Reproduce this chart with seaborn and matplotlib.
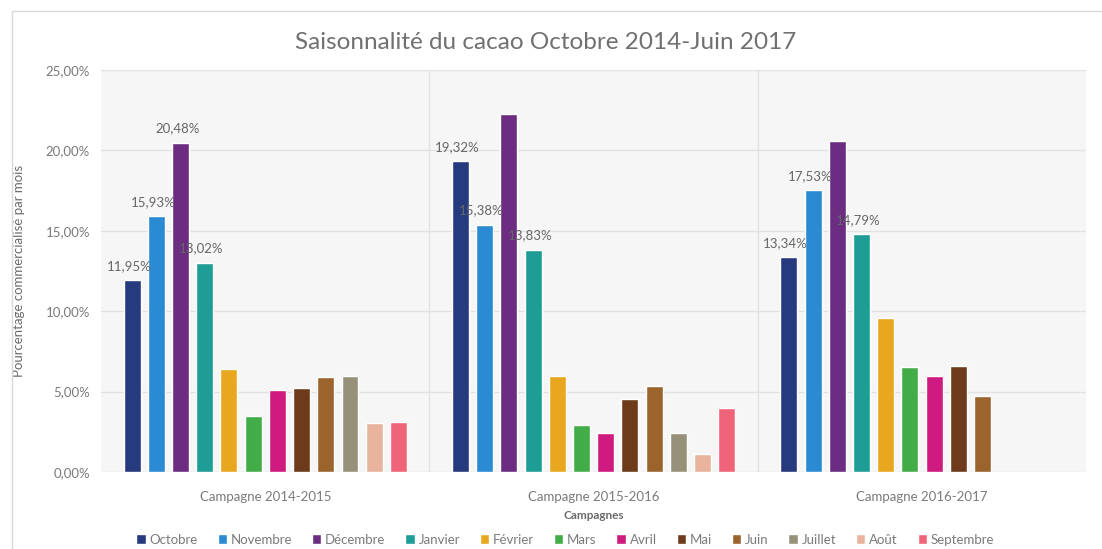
import matplotlib
matplotlib.use("Agg")
import matplotlib.pyplot as plt
from matplotlib.patches import Rectangle
from matplotlib.ticker import FuncFormatter
import numpy as np
import pandas as pd
import seaborn as sns

campagnes = ["Campagne 2014-2015", "Campagne 2015-2016", "Campagne 2016-2017"]
mois = ["Octobre", "Novembre", "Décembre", "Janvier", "Février", "Mars",
        "Avril", "Mai", "Juin", "Juillet", "Août", "Septembre"]

# share of the season sold per month (%), NaN = not yet available
c_2014 = [11.95, 15.93, 20.48, 13.02, 6.4, 3.5, 5.1, 5.2, 5.9, 6.0, 3.05, 3.1]
c_2015 = [19.32, 15.38, 22.25, 13.83, 5.95, 2.95, 2.4, 4.55, 5.35, 2.45, 1.1, 3.95]
c_2016 = [13.34, 17.53, 20.6, 14.79, 9.55, 6.55, 5.95, 6.6, 4.7, np.nan, np.nan, np.nan]

# bars that carry a data label in the original
labelled = {
    "Campagne 2014-2015": ["Octobre", "Novembre", "Décembre", "Janvier"],
    "Campagne 2015-2016": ["Octobre", "Novembre", "Janvier"],
    "Campagne 2016-2017": ["Octobre", "Novembre", "Janvier"],
}

couleurs = ["#263a7e", "#2a8bd3", "#6b2c82", "#1d9d95", "#e8a71f", "#42ad48",
            "#cf1a80", "#6d3b1b", "#9b642d", "#98917a", "#e9b49e", "#ef6479"]

rows = []
for camp, vals in zip(campagnes, [c_2014, c_2015, c_2016]):
    for m, v in zip(mois, vals):
        rows.append({"Campagne": camp, "Mois": m, "Valeur": v})
df = pd.DataFrame(rows)

sns.set_style("white")
plt.rcParams["font.family"] = ["Lato", "DejaVu Sans"]

fig = plt.figure(figsize=(11.02, 5.49), dpi=100)
ax = fig.add_axes([0.0917, 0.1403, 0.894, 0.7322])
ax.set_facecolor("#f6f6f6")

sns.barplot(data=df.dropna(), x="Campagne", y="Valeur", hue="Mois",
            order=campagnes, hue_order=mois, palette=couleurs, saturation=1,
            width=0.885, gap=0.30, ax=ax, legend=True)

ax.set_xlim(-0.5, 2.5)
ax.set_ylim(0, 25)
ax.set_yticks([0, 5, 10, 15, 20, 25])
ax.yaxis.set_major_formatter(FuncFormatter(lambda v, p: f"{v:.2f}%".replace(".", ",")))
ax.grid(axis="y", color="#e2e2e2", linewidth=1)
ax.set_axisbelow(True)
for xv in [0.5, 1.5]:
    ax.axvline(xv, color="#e2e2e2", linewidth=1, zorder=0)
for s in ax.spines.values():
    s.set_visible(False)
ax.tick_params(axis="both", length=0, labelsize=9.5, colors="#7a7a7a")
ax.tick_params(axis="x", pad=14)
ax.tick_params(axis="y", pad=8)

# data labels (slightly left of the bar centre, as in the original)
for cont, m in zip(ax.containers, mois):
    for bar in cont:
        camp = campagnes[int(round(bar.get_x() + bar.get_width() / 2))]
        if m not in labelled[camp]:
            continue
        h = bar.get_height()
        if np.isnan(h):
            continue
        ax.text(bar.get_x() + bar.get_width() / 2 - 0.01, h + 0.5,
                f"{h:.2f}%".replace(".", ","), ha="center", va="bottom",
                fontsize=9.5, color="#666666")

ax.set_xlabel("Campagnes", fontsize=8.5, fontweight="bold", color="#6a6a6a", labelpad=5)
ax.set_ylabel("Pourcentage commercialisé par mois", fontsize=9.5, color="#6a6a6a")
ax.yaxis.set_label_coords(-0.077, 0.5)

fig.text(0.495, 0.923, "Saisonnalité du cacao Octobre 2014-Juin 2017",
         ha="center", va="center", fontsize=17.5, color="#707070")

handles, labels = ax.get_legend_handles_labels()
ax.get_legend().remove()
fig.legend(handles, labels, loc="center", bbox_to_anchor=(0.513, 0.017), ncol=12,
           frameon=False, fontsize=9.5, handlelength=0.7, handleheight=0.7,
           handletextpad=0.3, columnspacing=1.5, labelcolor="#7a7a7a")

fig.add_artist(Rectangle((0.011, -0.01), 0.99, 0.99, transform=fig.transFigure,
                         fill=False, edgecolor="#d9d9d9", linewidth=1))

fig.savefig("out.png", dpi=100)
